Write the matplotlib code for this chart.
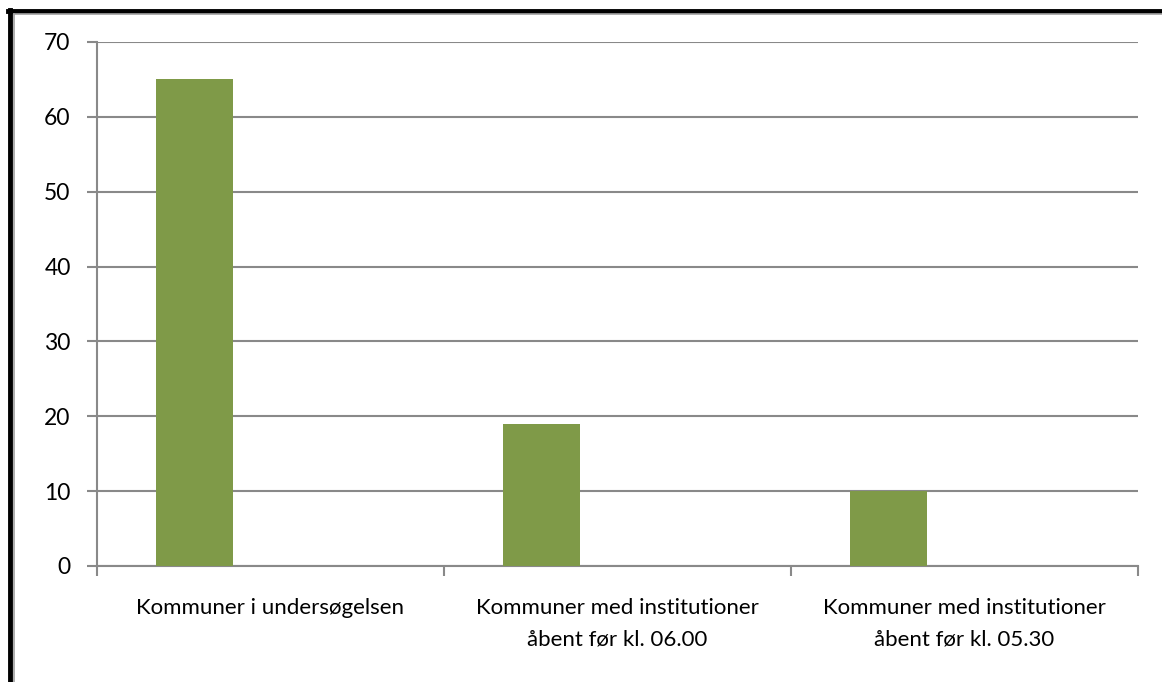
import numpy as np
from matplotlib import pyplot as plt
from matplotlib.lines import Line2D

# Data
categories = ['Kommuner i undersøgelsen',
              'Kommuner med institutioner\nåbent før kl. 06.00',
              'Kommuner med institutioner\nåbent før kl. 05.30']
values = [65, 19, 10]
y_ticks = [0, 10, 20, 30, 40, 50, 60, 70]

plt.rcParams['font.family'] = ['Lato', 'DejaVu Sans']

fig = plt.figure(figsize=(11.62, 6.82), dpi=100)
ax = fig.add_axes([97 / 1162, 1 - 566 / 682, 1041 / 1162, 524 / 682])

grid_color = '#898989'
x = np.arange(len(categories))
ax.bar(x + 0.17, values, width=0.222, align='edge', color='#7F9A48', zorder=3)

ax.set_xlim(0, len(categories))
ax.set_ylim(0, 70)
ax.set_yticks(y_ticks)
ax.yaxis.grid(True, color=grid_color, linewidth=1.5, zorder=0)

# category boundaries as major ticks, labels in the middle
ax.set_xticks(np.arange(len(categories) + 1))
ax.set_xticklabels([])
ax.set_xticks(x + 0.5, minor=True)
ax.set_xticklabels(categories, minor=True, fontsize=16, linespacing=1.7)
ax.tick_params(axis='x', which='minor', length=0, pad=23)
ax.tick_params(axis='x', which='major', length=7, width=1.5, color=grid_color)
ax.tick_params(axis='y', length=7, width=1.5, color=grid_color, labelsize=16.5, pad=12)

for s in ['top', 'right']:
    ax.spines[s].set_visible(False)
for s in ['left', 'bottom']:
    ax.spines[s].set_color(grid_color)
    ax.spines[s].set_linewidth(1.5)

# outer frame (left and top only visible)
fig.add_artist(Line2D([10 / 1162, 10 / 1162], [0, 1 - 10 / 682], color='black', linewidth=3.5,
                      transform=fig.transFigure))
fig.add_artist(Line2D([8 / 1162, 1], [1 - 10.5 / 682, 1 - 10.5 / 682], color='black', linewidth=3.5,
                      transform=fig.transFigure))
fig.add_artist(Line2D([14 / 1162, 14 / 1162], [0, 1 - 14 / 682], color='#A0A0A0', linewidth=1.2,
                      transform=fig.transFigure))
fig.add_artist(Line2D([14 / 1162, 1], [1 - 14 / 682, 1 - 14 / 682], color='#A0A0A0', linewidth=1.2,
                      transform=fig.transFigure))

plt.savefig('out.png', dpi=100)
